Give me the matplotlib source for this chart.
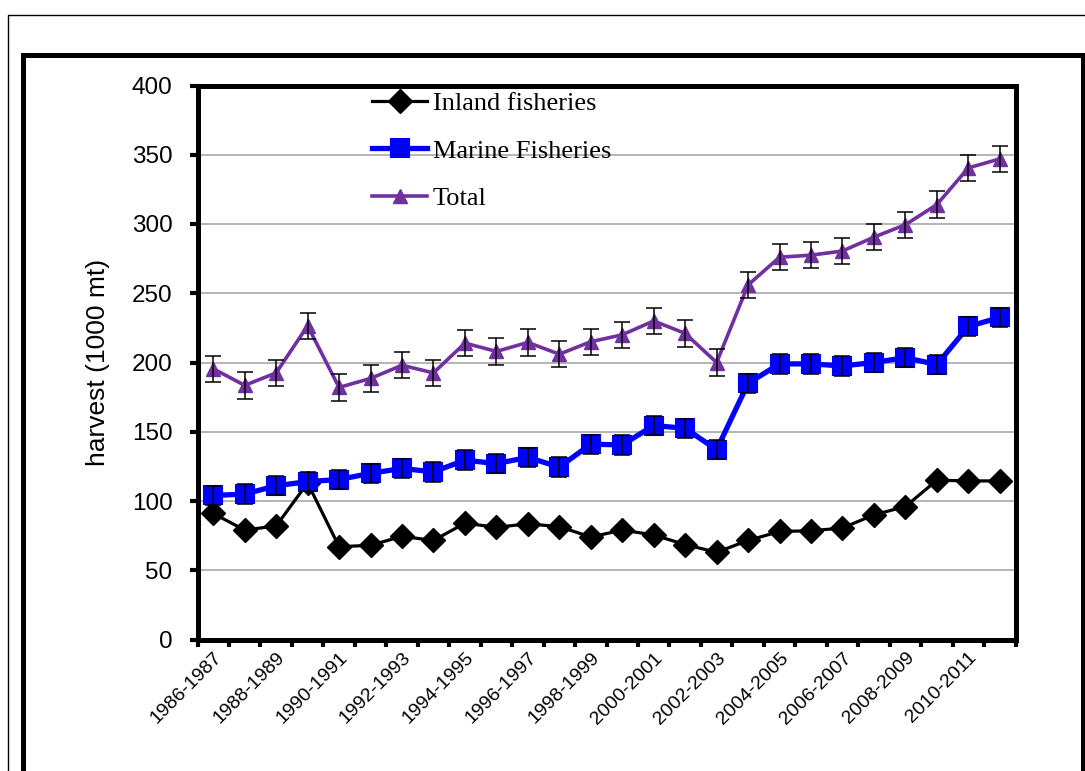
import matplotlib
matplotlib.use("Agg")
import matplotlib.pyplot as plt
from matplotlib.patches import Rectangle
from matplotlib.lines import Line2D
import numpy as np

# Fiscal years
years = ["1986-1987", "1987-1988", "1988-1989", "1989-1990", "1990-1991",
         "1991-1992", "1992-1993", "1993-1994", "1994-1995", "1995-1996",
         "1996-1997", "1997-1998", "1998-1999", "1999-2000", "2000-2001",
         "2001-2002", "2002-2003", "2003-2004", "2004-2005", "2005-2006",
         "2006-2007", "2007-2008", "2008-2009", "2009-2010", "2010-2011",
         "2011-2012"]

# Harvest, thousand metric tonnes
inland = [91, 79, 82, 113, 67, 68, 74.5, 71.5, 84, 81, 83.5, 81.5, 74,
          79, 75.5, 68.5, 63, 71.5, 78, 78.5, 80.5, 90, 96, 115, 114.5, 114.5]
marine = [104, 105, 111, 114, 115.5, 120, 123.5, 121, 129.5, 127, 131.5,
          124.5, 141, 140.5, 154.5, 152.5, 137, 185, 199, 199, 197.5, 200,
          203.5, 198.5, 226, 232.5]
total = [195.5, 183.5, 192.5, 226.5, 182, 188.5, 198, 192.5, 214, 208,
         214.5, 206, 215, 220, 230, 221, 200, 256, 276, 277.5, 280.5, 290.5,
         299.5, 314, 340.5, 347]
marine_err = [7] * 26
total_err = [9.5] * 26

yticks = [0, 50, 100, 150, 200, 250, 300, 350, 400]

W, H = 1085, 771
fig = plt.figure(figsize=(W / 100, H / 100), dpi=100)

# page frames around the chart
fig.add_artist(Rectangle((8 / W, -0.1), 1.2, 1 - 15 / H + 0.1,
                         transform=fig.transFigure, fill=False,
                         lw=1.0, ec="black", clip_on=False))
fig.add_artist(Rectangle((22.5 / W, -0.1), (1083 - 22.5) / W, 1 - 55 / H + 0.1,
                         transform=fig.transFigure, fill=False,
                         lw=3.6, ec="black", clip_on=False))

left, right, top, bottom = 197.5, 1015.5, 85.5, 639.5
ax = fig.add_axes([left / W, 1 - bottom / H, (right - left) / W, (bottom - top) / H])

x = np.arange(len(years))

inland_style = dict(color="black", lw=2.3, marker="D", ms=12,
                    mfc="black", mec="black")
marine_style = dict(color="#0000FF", lw=3.8, marker="s", ms=13.5,
                    mfc="#0000FF", mec="#0000FF", mew=1.5)
total_style = dict(color="#7030A0", lw=2.6, marker="^", ms=10,
                   mfc="#7030A0", mec="#7030A0")

ax.plot(x, inland, zorder=3, **inland_style)
ax.plot(x, marine, zorder=4, **marine_style)
ax.plot(x, total, zorder=5, **total_style)
ax.errorbar(x, marine, yerr=marine_err, fmt="none", ecolor="black",
            elinewidth=1.1, capsize=6, capthick=1.1, zorder=6)
ax.errorbar(x, total, yerr=total_err, fmt="none", ecolor="black",
            elinewidth=1.1, capsize=6, capthick=1.1, zorder=6)

ax.set_xlim(-0.5, len(years) - 0.5)
ax.set_ylim(0, 400)
ax.set_yticks(yticks)
ax.set_yticklabels([str(v) for v in yticks], fontsize=17.5, family="Liberation Sans")
ax.yaxis.grid(True, color="#A0A0A0", lw=1.1)
ax.set_axisbelow(True)

ax.set_xticks(x[::2])
ax.set_xticklabels(years[::2], rotation=45, ha="right", va="top",
                   rotation_mode="anchor", fontsize=14, family="Liberation Sans")
ax.set_xticks(np.arange(-0.5, len(years)), minor=True)
ax.tick_params(axis="x", which="major", length=0, pad=7)
ax.tick_params(axis="x", which="minor", length=5, width=3, direction="out")
ax.tick_params(axis="y", length=6, width=3, direction="out", pad=12)

for s in ax.spines.values():
    s.set_linewidth(3.6)
    s.set_color("black")

ax.set_ylabel("harvest (1000 mt)", fontsize=19, family="Liberation Sans")
ax.yaxis.set_label_coords((110 - left) / (right - left), 0.5)

handles = [Line2D([], [], **inland_style),
           Line2D([], [], **marine_style),
           Line2D([], [], **total_style)]
labels = ["Inland fisheries", "Marine Fisheries", "Total"]
ax.legend(handles, labels, loc="upper left",
          bbox_to_anchor=(372 / W, 1 - 92 / H), bbox_transform=fig.transFigure,
          frameon=False, prop={"family": "Liberation Serif", "size": 19},
          handlelength=2.1, handletextpad=0.2, labelspacing=0.9,
          borderpad=0, borderaxespad=0)

fig.savefig("out.png", dpi=100)
